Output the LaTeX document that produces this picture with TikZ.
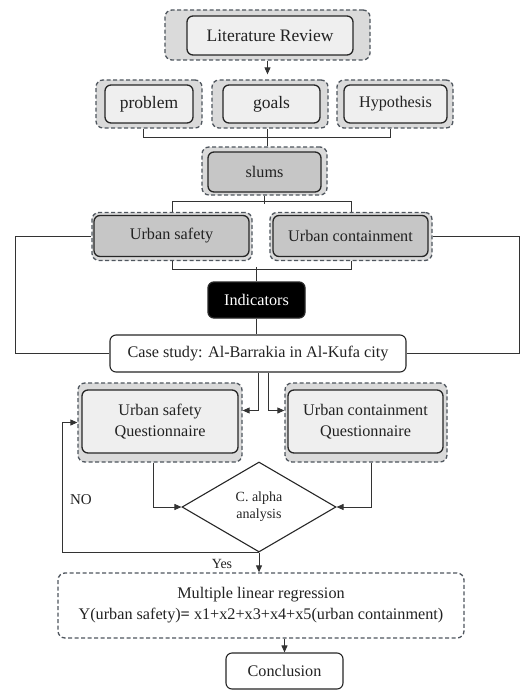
\documentclass[tikz,border=0pt]{standalone}
\usepackage{fontspec}
\setmainfont{Liberation Serif}
\usetikzlibrary{shapes.geometric,arrows.meta}
\definecolor{band}{HTML}{DADADA}
\definecolor{lightin}{HTML}{EFEFEF}
\definecolor{darkin}{HTML}{C6C6C6}
\definecolor{dashc}{HTML}{4F565E}
\definecolor{txt}{HTML}{222222}
\begin{document}
\begin{tikzpicture}[x=1pt,y=-1pt,
  outerbox/.style={draw=dashc, dash pattern=on 4pt off 2.5pt, line width=1.3pt, fill=band, rounded corners=7pt, inner sep=0pt},
  innerbox/.style={draw=black!85, line width=1.3pt, fill=lightin, rounded corners=6pt, inner sep=0pt, align=center, text=txt, font=\fontsize{16.2}{20.5}\selectfont},
  bigtext/.style={font=\fontsize{17.5}{21}\selectfont},
  darkbox/.style={innerbox, fill=darkin},
  plainbox/.style={innerbox, fill=white, line width=1.1pt},
  conn/.style={draw=black!80, line width=0.9pt},
  arr/.style={conn, -{Triangle[length=7pt,width=6pt]}},
  lbl/.style={inner sep=0pt, text=txt, font=\fontsize{15}{18}\selectfont}
]
\useasboundingbox (0,0) rectangle (520,690);

% top
\node[outerbox, minimum width=205pt, minimum height=50pt] (litO) at (267.5,35) {};
\node[innerbox, bigtext, minimum width=166pt, minimum height=39pt] (lit) at (270,35.5) {Literature Review};

\node[outerbox, minimum width=106pt, minimum height=48pt] (probO) at (149,104) {};
\node[innerbox, bigtext, minimum width=88pt, minimum height=38pt] (prob) at (149,104) {problem};
\node[outerbox, minimum width=116pt, minimum height=48pt] (goalsO) at (270,104) {};
\node[innerbox, bigtext, minimum width=97pt, minimum height=38pt] (goals) at (271.5,104) {goals};
\node[outerbox, minimum width=116pt, minimum height=48pt] (hypO) at (395,104) {};
\node[innerbox, minimum width=103pt, minimum height=38pt] (hyp) at (395.5,104) {Hypothesis};

\node[outerbox, minimum width=125pt, minimum height=48pt] (slumsO) at (264.5,171) {};
\node[darkbox, minimum width=113pt, minimum height=40pt] (slums) at (264.5,172) {slums};

\node[outerbox, minimum width=160pt, minimum height=48pt] (usafO) at (172,236.5) {};
\node[darkbox, minimum width=155pt, minimum height=41pt] (usaf) at (171.5,236) {Urban safety};
\node[outerbox, minimum width=162pt, minimum height=48pt] (uconO) at (351,236.5) {};
\node[darkbox, minimum width=155pt, minimum height=41pt] (ucon) at (350.5,236) {Urban containment};

\node[innerbox, fill=black, text=white, minimum width=97pt, minimum height=36pt] (ind) at (256.5,300) {Indicators};
\node[plainbox, minimum width=296pt, minimum height=37pt] (case) at (258,353.5) {Case study: Al-Barrakia in Al-Kufa city};

\node[outerbox, minimum width=164pt, minimum height=79pt] (usqO) at (160,422.5) {};
\node[innerbox, minimum width=156pt, minimum height=63pt] (usq) at (160,421.5) {Urban safety\\Questionnaire};
\node[outerbox, minimum width=162pt, minimum height=79pt] (ucqO) at (366,422.5) {};
\node[innerbox, minimum width=155pt, minimum height=63pt] (ucq) at (365.5,421.5) {Urban containment\\Questionnaire};

\node[draw=black!85, line width=1.1pt, shape=diamond, minimum width=154pt, minimum height=90pt, inner sep=0pt, align=center, text=txt, font=\fontsize{14}{17}\selectfont] (dia) at (259,507) {C. alpha\\analysis};

\node[lbl] (no) at (81,500) {NO};
\node[lbl, font=\fontsize{14}{17}\selectfont] (yes) at (222,564) {Yes};

\node[outerbox, fill=white, minimum width=406pt, minimum height=65pt, align=center, text=txt, font=\fontsize{16.2}{21}\selectfont] (mlr) at (261,605.5) {Multiple linear regression\\Y(urban safety)\textbf{=} x1+x2+x3+x4+x5(urban containment)};
\node[plainbox, minimum width=117pt, minimum height=36pt] (conc) at (284.5,671) {Conclusion};

% connectors
\draw[arr, shorten >=5pt] (litO.south) -- (litO.south |- goalsO.north);
\draw[conn] ([xshift=-6pt]probO.south) -- ++(0,9) -| ([xshift=-5pt]hypO.south);
\draw[conn] ([xshift=-3pt]goalsO.south) -- ([xshift=-3pt]goalsO.south |- slumsO.north);
\draw[conn] (slumsO.south) -- ++(0,8);
\draw[conn] (usafO.north) -- ++(0,-10) -| (uconO.north);
\draw[conn] (usafO.south) -- ++(0,8) -| (uconO.south);
\draw[conn] (ind.north) -- ++(0,-14);
\draw[conn] (ind.south) -- (ind.south |- case.north);
\draw[conn] (usafO.west) -- ++(-76,0) |- (case.west);
\draw[conn] (uconO.east) -- ++(87,0) |- (case.east);
\draw[arr] (case.south) |- ([yshift=12pt]usqO.east);
\draw[arr] ([xshift=10pt]case.south) |- ([yshift=12pt]ucqO.west);
\draw[arr] ([xshift=-7pt]usqO.south) |- (dia.west);
\draw[arr] ([xshift=5pt]ucqO.south) |- (dia.east);
\draw[arr] (dia.south) -| ([xshift=-15pt]usqO.west) -- (usqO.west);
\draw[arr] (dia.south) -- (dia.south |- mlr.north);
\draw[arr] (mlr.south -| conc.north) -- (conc.north);
\end{tikzpicture}
\end{document}
